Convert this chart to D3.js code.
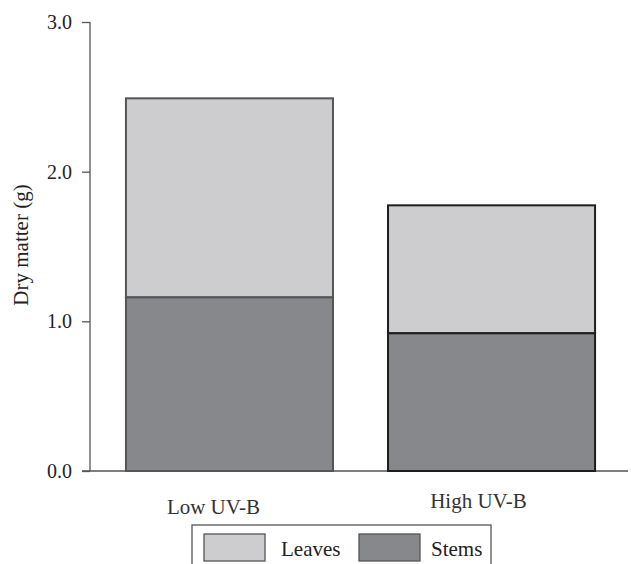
<!DOCTYPE html>
<html><head><meta charset="utf-8">
<script src="https://cdn.jsdelivr.net/npm/d3@7"></script>
<style>body{margin:0;background:#fff}svg{display:block}</style>
</head><body>
<svg id="c" width="631" height="564"></svg>
<script>
const categories = ["Low UV-B", "High UV-B"];
const stems = [1.16, 0.92];
const leaves = [1.33, 0.855];
const seriesNames = ["Leaves", "Stems"];
const yTicks = [0, 1, 2, 3];

const svg = d3.select("#c");
const font = "'Liberation Serif','Times New Roman',serif";
const y = d3.scaleLinear().domain([0, 3]).range([471, 22]);
const x = d3.scaleBand().domain(categories).range([100, 621]).paddingInner(0.21).paddingOuter(0.099);
const colors = {Leaves: "#cdcdcf", Stems: "#87888c"};
const outline = ["#555", "#1e1e1e"];

// axes
const ax = svg.append("g").attr("transform", "translate(90,0)")
  .call(d3.axisLeft(y).tickValues(yTicks).tickFormat(d3.format(".1f")).tickSize(8).tickPadding(10));
ax.attr("font-family", font);
ax.select(".domain").attr("stroke", "#555").attr("stroke-width", 1.3).attr("d", "M0,22V471");
ax.selectAll(".tick line").attr("stroke", "#555").attr("stroke-width", 1.3);
ax.selectAll(".tick text").attr("font-family", font).attr("font-size", 20).attr("fill", "#222");

svg.append("line").attr("x1", 82).attr("x2", 628).attr("y1", y(0)).attr("y2", y(0))
  .attr("stroke", "#555").attr("stroke-width", 1.3);

// bars
categories.forEach((c, i) => {
  const g = svg.append("g");
  g.append("rect").attr("x", x(c)).attr("width", x.bandwidth())
    .attr("y", y(stems[i] + leaves[i])).attr("height", y(stems[i]) - y(stems[i] + leaves[i]))
    .attr("fill", colors.Leaves).attr("stroke", outline[i]).attr("stroke-width", 2);
  g.append("rect").attr("x", x(c)).attr("width", x.bandwidth())
    .attr("y", y(stems[i])).attr("height", y(0) - y(stems[i]))
    .attr("fill", colors.Stems).attr("stroke", outline[i]).attr("stroke-width", 2);
});

// category labels
categories.forEach((c, i) => {
  svg.append("text").attr("x", x(c) + x.bandwidth() / 2 + (i === 0 ? -16 : -13))
    .attr("y", i === 0 ? 514 : 508).attr("text-anchor", "middle")
    .attr("font-family", font).attr("font-size", 21).attr("fill", "#333").text(c);
});

// y label
svg.append("text").attr("transform", "translate(28,245) rotate(-90)")
  .attr("text-anchor", "middle").attr("font-family", font).attr("font-size", 21)
  .attr("fill", "#222").text("Dry matter (g)");

// legend
const lg = svg.append("g");
lg.append("rect").attr("x", 192).attr("y", 525).attr("width", 299).attr("height", 60)
  .attr("fill", "none").attr("stroke", "#555").attr("stroke-width", 1.3);
const lx = [204, 359];
const tx = [281, 431];
seriesNames.forEach((s, i) => {
  lg.append("rect").attr("x", lx[i]).attr("y", 534).attr("width", 61).attr("height", 27)
    .attr("fill", colors[s]).attr("stroke", "#555").attr("stroke-width", 1.3);
  lg.append("text").attr("x", tx[i]).attr("y", 556)
    .attr("font-family", font).attr("font-size", 21).attr("fill", "#222").text(s);
});
</script>
</body></html>
